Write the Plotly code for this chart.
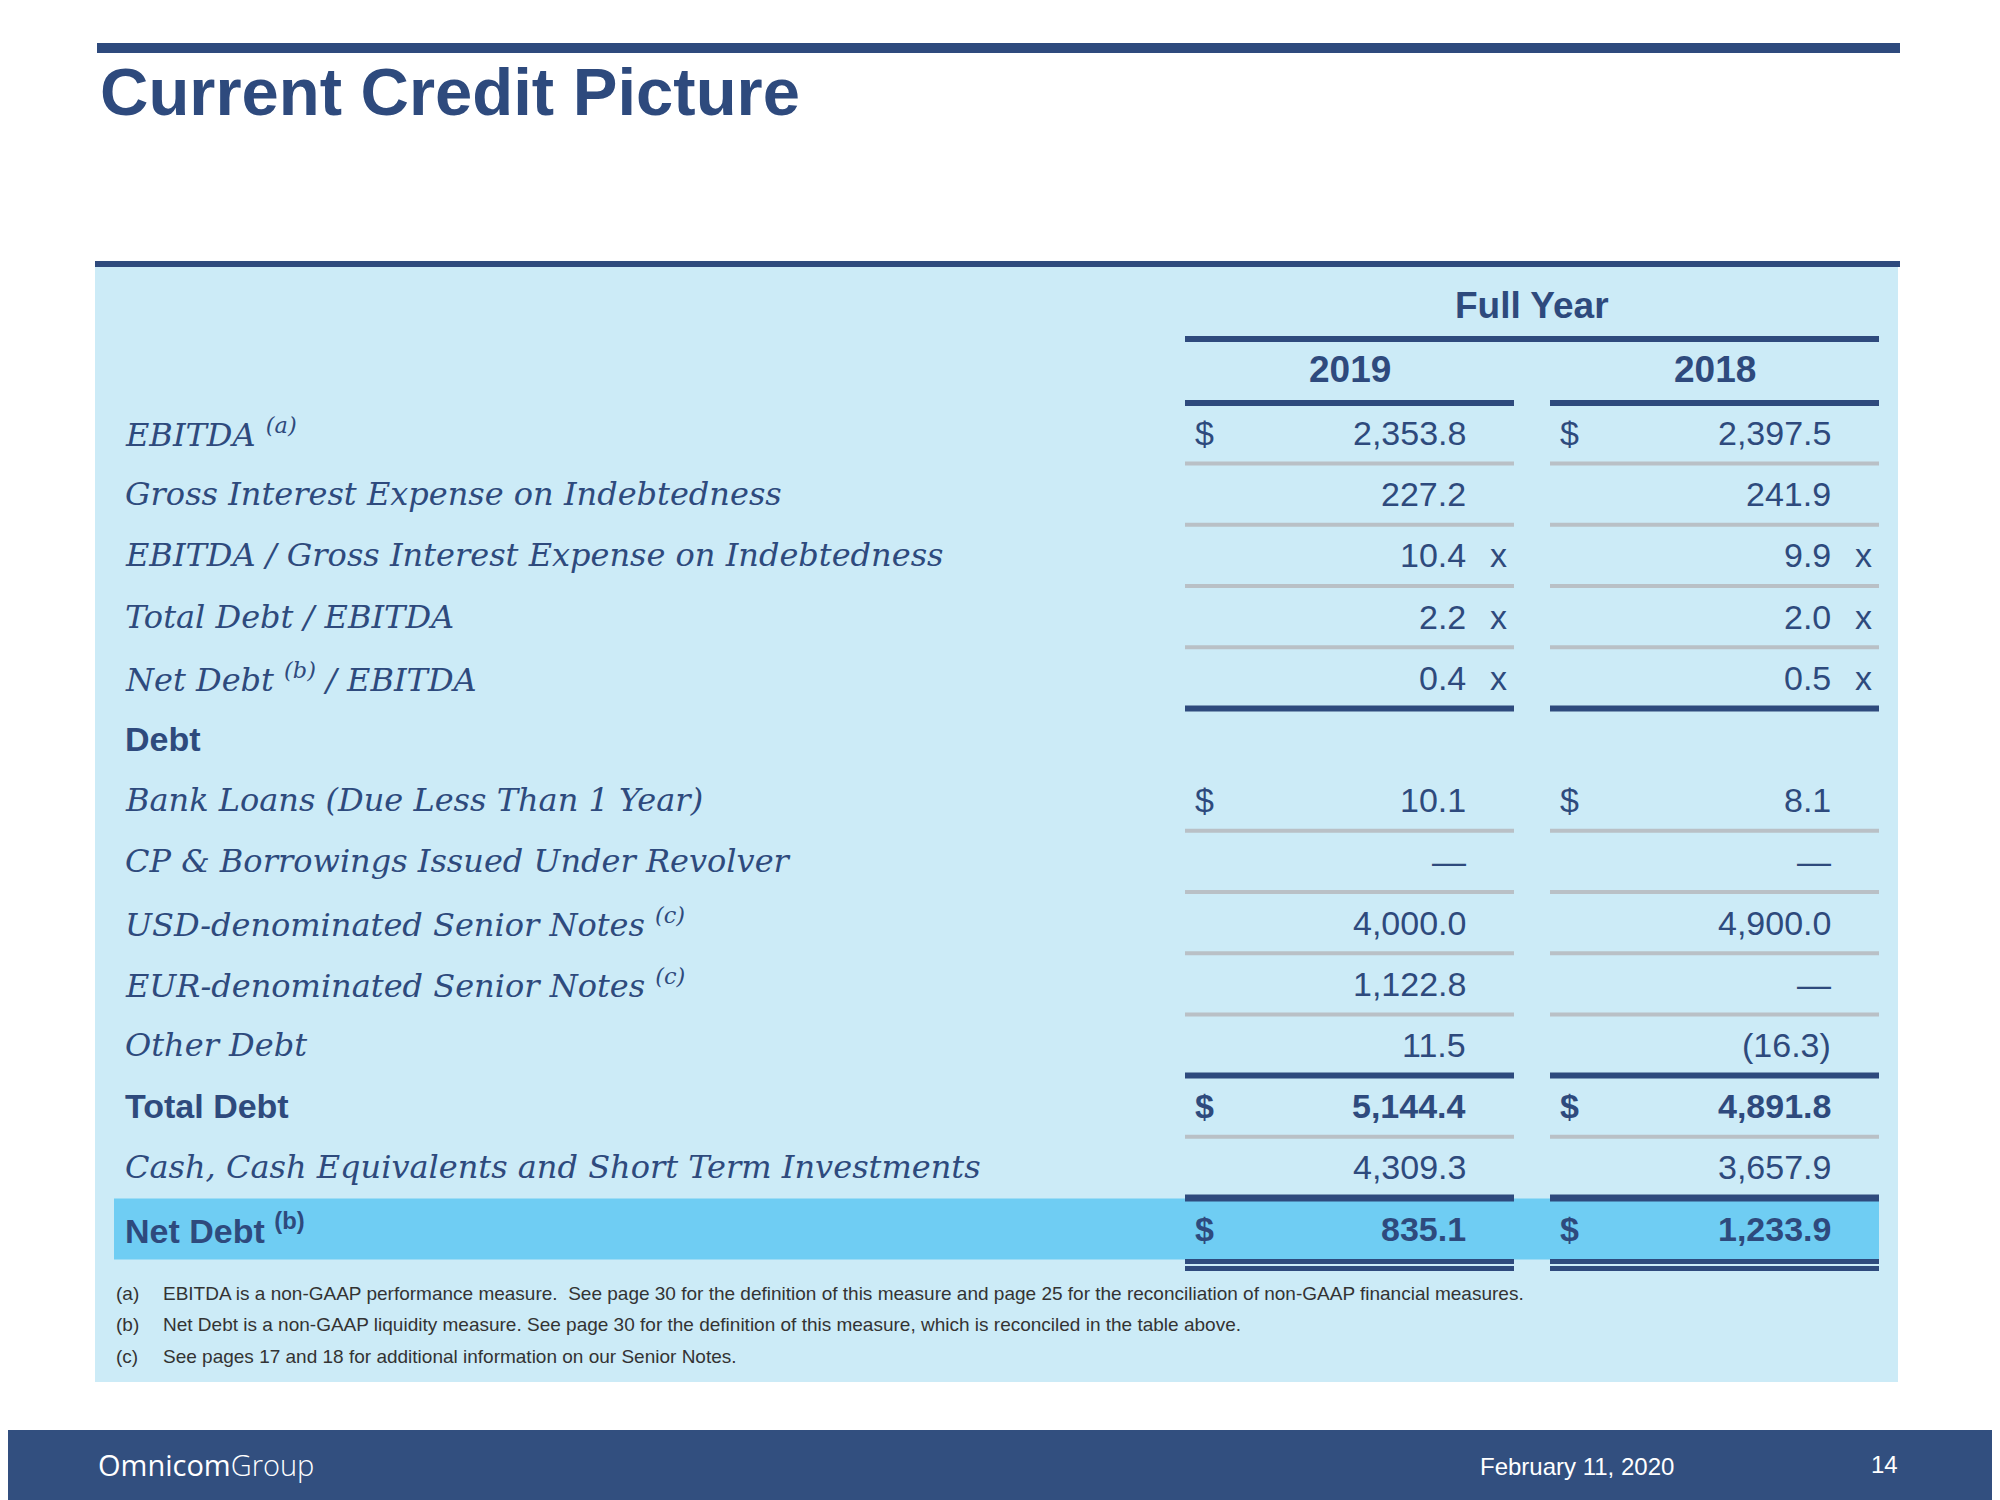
import plotly.graph_objects as go

labels = ["EBITDA <sup>(a)</sup>", "Gross Interest Expense on Indebtedness",
          "EBITDA / Gross Interest Expense on Indebtedness", "Total Debt / EBITDA",
          "Net Debt <sup>(b)</sup> / EBITDA", "Debt", "Bank Loans (Due Less Than 1 Year)",
          "CP &amp; Borrowings Issued Under Revolver", "USD-denominated Senior Notes <sup>(c)</sup>",
          "EUR-denominated Senior Notes <sup>(c)</sup>", "Other Debt", "Total Debt",
          "Cash, Cash Equivalents and Short Term Investments", "Net Debt <sup>(b)</sup>"]
bold_rows = [5, 11, 13]
vals_2019 = ["2,353.8", "227.2", "10.4", "2.2", "0.4", "", "10.1", "—", "4,000.0", "1,122.8", "11.5", "5,144.4", "4,309.3", "835.1"]
vals_2018 = ["2,397.5", "241.9", "9.9", "2.0", "0.5", "", "8.1", "—", "4,900.0", "—", "(16.3)", "4,891.8", "3,657.9", "1,233.9"]
dollar_rows = [0, 6, 11, 13]
times_rows = [2, 3, 4]
years = ["2019", "2018"]
footnotes = [("(a)", "EBITDA is a non-GAAP performance measure.  See page 30 for the definition of this measure and page 25 for the reconciliation of non-GAAP financial measures."),
             ("(b)", "Net Debt is a non-GAAP liquidity measure. See page 30 for the definition of this measure, which is reconciled in the table above."),
             ("(c)", "See pages 17 and 18 for additional information on our Senior Notes.")]
seps = ["g", "g", "g", "g", "d", None, "g", "g", "g", "g", "d", "g", "D", None]

NAVY = "#2E4A7D"
fig = go.Figure(go.Scatter(x=[0, 2000], y=[0, 1500], mode="markers", marker=dict(opacity=0), hoverinfo="skip"))
shapes = []
ann = []
def rect(x0, y0, x1, y1, c):
    shapes.append(dict(type="rect", x0=x0, x1=x1, y0=y0, y1=y1, fillcolor=c, line=dict(width=0), layer="below"))
def hline(x0, x1, y, c, w):
    shapes.append(dict(type="line", x0=x0, x1=x1, y0=y, y1=y, line=dict(color=c, width=w)))
def text(x, y, t, size, color=NAVY, fam="Liberation Sans, Arial", xa="left"):
    ann.append(dict(x=x, y=y, text=t, showarrow=False, xanchor=xa, yanchor="middle",
                    font=dict(size=size, color=color, family=fam)))

rect(97, 268, 1900, 1384, "#CCEBF7")
shapes.append(dict(type="line", x0=99, x1=1902, y0=50, y1=50, line=dict(color=NAVY, width=10)))
hline(97, 1902, 266, NAVY, 6)
text(100, 93, "<b>Current Credit Picture</b>", 67)
text(1534, 307, "<b>Full Year</b>", 37, xa="center")
hline(1187, 1881, 341, NAVY, 6)
C1 = (1187, 1516); C2 = (1552, 1881)
for yr, c in zip(years, [C1, C2]):
    text((c[0] + c[1]) / 2, 371, "<b>" + yr + "</b>", 37, xa="center")
    hline(c[0], c[1], 405, NAVY, 6)

y0 = 435; dy = 61.2
rect(116, y0 + 13 * dy - 30, 1881, y0 + 13 * dy + 31, "#6FCDF3")
for i, lab in enumerate(labels):
    y = y0 + i * dy
    if i in bold_rows:
        text(125, y, "<b>" + lab + "</b>", 34)
    else:
        text(125, y, "<i>" + lab + "</i>", 32, fam="DejaVu Serif, Georgia, serif")
    b = (lambda s: "<b>" + s + "</b>") if i in (11, 13) else (lambda s: s)
    for v, c, vx, xx in [(vals_2019[i], C1, 1470, 1500), (vals_2018[i], C2, 1835, 1865)]:
        if v:
            text(vx, y, b(v), 34, xa="right")
        if i in dollar_rows:
            text(c[0] + 8, y, b("$"), 34)
        if i in times_rows:
            text(xx, y, "x", 34, xa="center")
    s = seps[i]
    if s:
        ys = y + dy / 2
        for c in (C1, C2):
            if s == "g":
                hline(c[0], c[1], ys, "#B9C0C6", 4)
            else:
                hline(c[0], c[1], ys, NAVY, 6 if s == "d" else 7)
for c in (C1, C2):
    hline(c[0], c[1], y0 + 13 * dy + 33, NAVY, 5)
    hline(c[0], c[1], y0 + 13 * dy + 40, NAVY, 5)

for k, (a, t) in enumerate(footnotes):
    y = 1295 + k * 31.5
    text(116, y, a, 19, color="#333333")
    text(163, y, t, 19, color="#333333")

rect(-50, 1432, 2100, 1560, "#324F7F")
text(98, 1466, "Omnicom<span style='font-weight:300'>Group</span>", 29, color="white", fam="Open Sans, Liberation Sans")
text(1579, 1468, "February 11, 2020", 24, color="white", xa="center")
text(1886, 1466, "14", 24, color="white", xa="center")

fig.update_layout(width=2000, height=1500, margin=dict(l=0, r=0, t=0, b=0),
                  paper_bgcolor="white", plot_bgcolor="white", showlegend=False,
                  shapes=shapes, annotations=ann,
                  xaxis=dict(range=[10, 2010], visible=False, fixedrange=True),
                  yaxis=dict(range=[1510, 10], visible=False, fixedrange=True))
fig.write_html("out.html", config={"displayModeBar": False})
